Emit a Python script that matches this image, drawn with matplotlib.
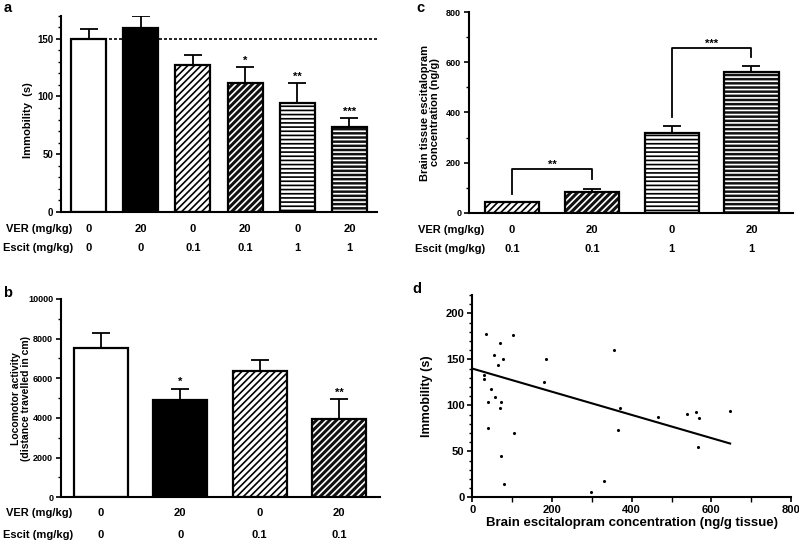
import numpy as np
import matplotlib
matplotlib.use("Agg")
import matplotlib.pyplot as plt
from matplotlib.transforms import blended_transform_factory
from matplotlib.ticker import MultipleLocator

plt.rcParams['font.family'] = ['Liberation Sans', 'DejaVu Sans']
plt.rcParams['font.weight'] = 'bold'
plt.rcParams['axes.labelweight'] = 'bold'
plt.rcParams['hatch.linewidth'] = 1.2

# panel a: immobility (forced swim)
ver_a = ['0', '20', '0', '20', '0', '20']
escit_a = ['0', '0', '0.1', '0.1', '1', '1']
immob_a = [150, 159, 127, 112, 94.5, 74]
immob_a_err = [8, 11, 9, 13.5, 17.5, 7.5]
stars_a = ['', '', '', '*', '**', '***']
styles_a = ['open', 'solid', 'ldiag', 'ddiag', 'lhor', 'dhor']

# panel b: locomotor activity
ver_b = ['0', '20', '0', '20']
escit_b = ['0', '0', '0.1', '0.1']
loco_b = [7530, 4910, 6370, 3970]
loco_b_err = [740, 570, 570, 970]
stars_b = ['', '*', '', '**']
styles_b = ['open', 'solid', 'ldiag', 'ddiag']

# panel c: brain escitalopram
ver_c = ['0', '20', '0', '20']
escit_c = ['0.1', '0.1', '1', '1']
conc_c = [41, 83, 320, 563]
conc_c_err = [3, 10, 28, 23]
styles_c = ['ldiag', 'ddiag', 'lhor', 'dhor']
# brackets: (left bar, right bar, left foot, top, right foot, label)
brackets_c = [(0, 1, 73, 175, 134, '**'), (2, 3, 381, 656, 620, '***')]

# panel d: correlation
conc_d = [35, 102, 69.5, 54.5, 78, 64.5, 28.5, 28.5, 47, 58, 39.5, 71, 68.5, 38.5,
          104.5, 72, 79.5, 186, 181, 299, 356, 371, 365, 330, 467, 539, 562, 570,
          566, 647]
immob_d = [178, 176, 168, 155, 150, 144, 132.5, 129, 118, 109, 104, 104, 97, 75,
           69.5, 45, 14, 150, 125, 6, 160, 97, 73, 18, 87, 91, 93, 86, 55, 94]
fit_intercept = 140
fit_slope = -0.126
fit_xmax = 647

W, H = 799, 541
fig = plt.figure(figsize=(W / 100, H / 100), dpi=100)


def px_axes(l, r, t, b):
    return fig.add_axes([l / W, 1 - b / H, (r - l) / W, (b - t) / H])


def draw_bars(ax, vals, errs, styles, width):
    x = np.arange(len(vals))
    ax.errorbar(x, vals, yerr=[np.zeros(len(vals)), errs], fmt='none', ecolor='black',
                elinewidth=1.3, capsize=6.5, capthick=1.3, zorder=1)
    for xi, v, st in zip(x, vals, styles):
        face = {'open': 'white', 'solid': 'black', 'ldiag': 'white', 'ddiag': '#111111',
                'lhor': 'white', 'dhor': '#111111'}[st]
        hatch = {'open': None, 'solid': None, 'ldiag': '/////', 'ddiag': '/////',
                 'lhor': '----', 'dhor': '----'}[st]
        hcol = 'white' if st in ('ddiag', 'dhor') else 'black'
        ax.bar(xi, v, width, color=face, edgecolor=hcol, hatch=hatch, linewidth=0, zorder=2)
        ax.bar(xi, v, width, fill=False, edgecolor='black', linewidth=1.6, zorder=3)
    return x


def style_axes(ax, size=7):
    for s in ['top', 'right']:
        ax.spines[s].set_visible(False)
    for s in ['left', 'bottom']:
        ax.spines[s].set_linewidth(1.5)
    ax.tick_params(axis='both', which='major', length=3.6, width=1.2, labelsize=size, pad=2)
    ax.tick_params(axis='both', which='minor', length=2, width=1)


def row_labels(ax, x, ver, escit, y1, y2, lx):
    tr = blended_transform_factory(ax.transData, fig.transFigure)
    for xi, a, b in zip(x, ver, escit):
        ax.text(xi, y1, a, transform=tr, ha='center', va='center', fontsize=8)
        ax.text(xi, y2, b, transform=tr, ha='center', va='center', fontsize=8)
    fig.text(lx, y1, 'VER (mg/kg)', ha='left', va='center', fontsize=8)
    fig.text(lx - 0.003, y2, 'Escit (mg/kg)', ha='left', va='center', fontsize=8)


# ---- panel a ----
ax = px_axes(61, 377, 15.6, 212)
x = draw_bars(ax, immob_a, immob_a_err, styles_a, 0.67)
ax.set_xlim(-0.527, 5.527)
ax.set_ylim(0, 170)
ax.hlines(immob_a[0], 0, 5.527, colors='black', linestyles=(0, (1.8, 1.2)), lw=1.2, zorder=0)
for xi, v, e, s in zip(x, immob_a, immob_a_err, stars_a):
    ax.text(xi, v + e + 5, s, ha='center', va='center', fontsize=8)
ax.set_xticks([])
ax.set_yticks([0, 50, 100, 150])
ax.yaxis.set_minor_locator(MultipleLocator(10))
style_axes(ax)
ax.set_ylabel('Immobility  (s)', fontsize=8)
ax.yaxis.set_label_coords(-0.088, 0.47)
row_labels(ax, x, ver_a, escit_a, 1 - 229 / H, 1 - 248 / H, 0.007)

# ---- panel b ----
ax = px_axes(61, 380, 299, 497.3)
x = draw_bars(ax, loco_b, loco_b_err, styles_b, 0.68)
ax.set_xlim(-0.504, 3.518)
ax.set_ylim(0, 10000)
for xi, v, e, s in zip(x, loco_b, loco_b_err, stars_b):
    ax.text(xi, v + e + 350, s, ha='center', va='center', fontsize=8)
ax.set_xticks([])
ax.set_yticks(np.arange(0, 10001, 2000))
ax.yaxis.set_minor_locator(MultipleLocator(1000))
style_axes(ax, 6.5)
ax.set_ylabel('Locomotor activity\n(distance travelled in cm)', fontsize=7.5, linespacing=1.0)
ax.yaxis.set_label_coords(-0.095, 0.5)
row_labels(ax, x, ver_b, escit_b, 1 - 513 / H, 1 - 535 / H, 0.007)

# ---- panel c ----
ax = px_axes(469, 793, 12.3, 212.7)
x = draw_bars(ax, conc_c, conc_c_err, styles_c, 0.677)
ax.set_xlim(-0.539, 3.52)
ax.set_ylim(0, 800)
for i0, i1, f0, top, f1, lab in brackets_c:
    ax.plot([x[i0], x[i0], x[i1], x[i1]], [f0, top, top, f1], color='black', lw=1.3, zorder=4)
    ax.text((x[i0] + x[i1]) / 2, top + 18, lab, ha='center', va='center', fontsize=8)
ax.set_xticks([])
ax.set_yticks(np.arange(0, 801, 200))
ax.yaxis.set_minor_locator(MultipleLocator(100))
style_axes(ax, 6.5)
ax.set_ylabel('Brain tissue escitalopram\nconcentration (ng/g)', fontsize=8, linespacing=1.0)
ax.yaxis.set_label_coords(-0.09, 0.5)
row_labels(ax, x, ver_c, escit_c, 1 - 230 / H, 1 - 249 / H, 0.523)

# ---- panel d ----
ax = px_axes(472.3, 791.1, 295, 497.3)
ax.scatter(conc_d, immob_d, s=5, color='black', linewidths=0, zorder=3)
ax.plot([0, fit_xmax], [fit_intercept, fit_intercept + fit_slope * fit_xmax],
        color='black', lw=1.5)
ax.set_xlim(0, 800)
ax.set_ylim(0, 220)
ax.set_xticks(np.arange(0, 801, 200))
ax.xaxis.set_minor_locator(MultipleLocator(100))
ax.set_yticks(np.arange(0, 201, 50))
ax.yaxis.set_minor_locator(MultipleLocator(10))
style_axes(ax, 8)
ax.tick_params(axis='x', which='both', length=3.5)
ax.set_ylabel('Immobility (s)', fontsize=9)
ax.yaxis.set_label_coords(-0.123, 0.5)
ax.set_xlabel('Brain escitalopram concentration (ng/g tissue)', fontsize=9.5)
ax.xaxis.set_label_coords(0.5, -0.095)
ax.xaxis.label.set_va('top')

# panel letters
for lx, ly, lab in [(0.004, 0.999, 'a'), (0.004, 0.471, 'b'), (0.521, 0.998, 'c'), (0.516, 0.478, 'd')]:
    fig.text(lx, ly, lab, ha='left', va='top', fontsize=10.5, fontweight='bold')

fig.savefig('out.png', dpi=100)
